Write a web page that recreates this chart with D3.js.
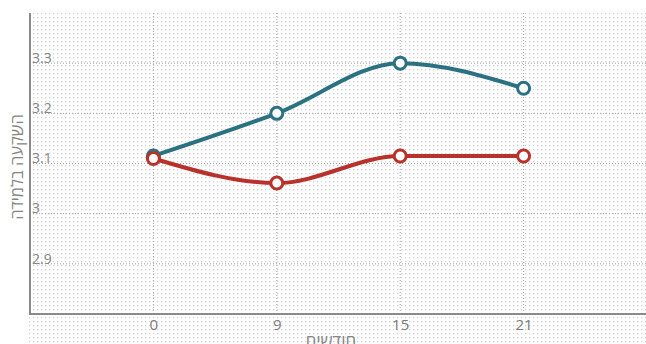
<!DOCTYPE html>
<html><head><meta charset="utf-8">
<script src="https://cdn.jsdelivr.net/npm/d3@7"></script>
<style>html,body{margin:0;padding:0;background:#fff;overflow:hidden}</style>
</head><body>
<svg id="c" width="646" height="344"></svg>
<script>
const months = ["0", "9", "15", "21"];
const tealValues = [3.115, 3.2, 3.3, 3.25];
const redValues = [3.11, 3.061, 3.115, 3.115];
const yTicks = [2.9, 3, 3.1, 3.2, 3.3];
const xTitle = "חודשים";
const yTitle = "השקעה בלמידה";

(function () {
const svg = d3.select("#c");
const W = 646, H = 344;
const mLeft = 30, mRight = 647, mTop = 13, mBottom = 314;

const defs = svg.append("defs");
const pat = defs.append("pattern").attr("id", "dots").attr("width", 4).attr("height", 4)
  .attr("patternUnits", "userSpaceOnUse");
pat.append("rect").attr("x", 1).attr("y", 1).attr("width", 1.2).attr("height", 1.2).attr("fill", "#d0d0d0");

svg.append("rect").attr("x", 27).attr("y", 12).attr("width", W - 27).attr("height", H - 12).attr("fill", "url(#dots)");

const x = d3.scalePoint().domain(months).range([mLeft, mRight]).padding(1);
const y = d3.scaleLinear().domain([2.8, 3.4]).range([mBottom, mTop]);

// gridlines
const g = svg.append("g");
g.selectAll(".hg").data(yTicks).join("line")
  .attr("x1", mLeft).attr("x2", W).attr("y1", d => y(d)).attr("y2", d => y(d))
  .attr("stroke", "#a0a0a0").attr("stroke-width", 1).attr("stroke-dasharray", "1,2");
g.selectAll(".vg").data(months).join("line")
  .attr("x1", d => x(d)).attr("x2", d => x(d)).attr("y1", mTop).attr("y2", mBottom)
  .attr("stroke", "#a0a0a0").attr("stroke-width", 1).attr("stroke-dasharray", "1,2");

// axes
const yAxis = d3.axisRight(y).tickValues(yTicks).tickSize(0).tickFormat(d3.format("~g"));
const ya = svg.append("g").attr("transform", `translate(${mLeft},0)`).call(yAxis);
ya.select(".domain").attr("stroke", "#8a8a8a").attr("stroke-width", 2).attr("d", `M0,${mTop}V${mBottom}`);
ya.selectAll("text").attr("x", 2).attr("dy", "-0.05em").attr("fill", "#858585")
  .style("font-family", "Open Sans, sans-serif").style("font-size", "14px");

const xAxis = d3.axisBottom(x).tickSize(0);
const xa = svg.append("g").attr("transform", `translate(0,${mBottom})`).call(xAxis);
xa.select(".domain").attr("stroke", "#8a8a8a").attr("stroke-width", 2).attr("d", `M${mLeft - 1},0H${W}`);
xa.selectAll("text").attr("y", 5).attr("fill", "#7a7a7a")
  .style("font-family", "Open Sans, sans-serif").style("font-size", "15px");

// titles
svg.append("text").attr("x", 331).attr("y", 347).attr("text-anchor", "middle")
  .attr("fill", "#858585").style("font-family", "Open Sans, sans-serif").style("font-size", "17px").text(xTitle);
svg.append("text").attr("transform", "translate(23,167) rotate(-90)").attr("text-anchor", "middle")
  .attr("fill", "#858585").style("font-family", "Open Sans, sans-serif").style("font-size", "16.5px").text(yTitle);

// series
const series = [
  {name: "teal", values: tealValues, color: "#2a7282"},
  {name: "red", values: redValues, color: "#b8312a"}
];
const line = d3.line().x((d, i) => x(months[i])).y(d => y(d)).curve(d3.curveMonotoneX);
series.forEach(s => {
  svg.append("path").datum(s.values).attr("d", line).attr("fill", "none")
    .attr("stroke", s.color).attr("stroke-width", 4).attr("stroke-linecap", "round");
});
series.forEach(s => {
  svg.append("g").selectAll("circle").data(s.values).join("circle")
    .attr("cx", (d, i) => x(months[i])).attr("cy", d => y(d)).attr("r", 6)
    .attr("fill", "#fff").attr("stroke", s.color).attr("stroke-width", 3);
});
})();
</script>
</body></html>
